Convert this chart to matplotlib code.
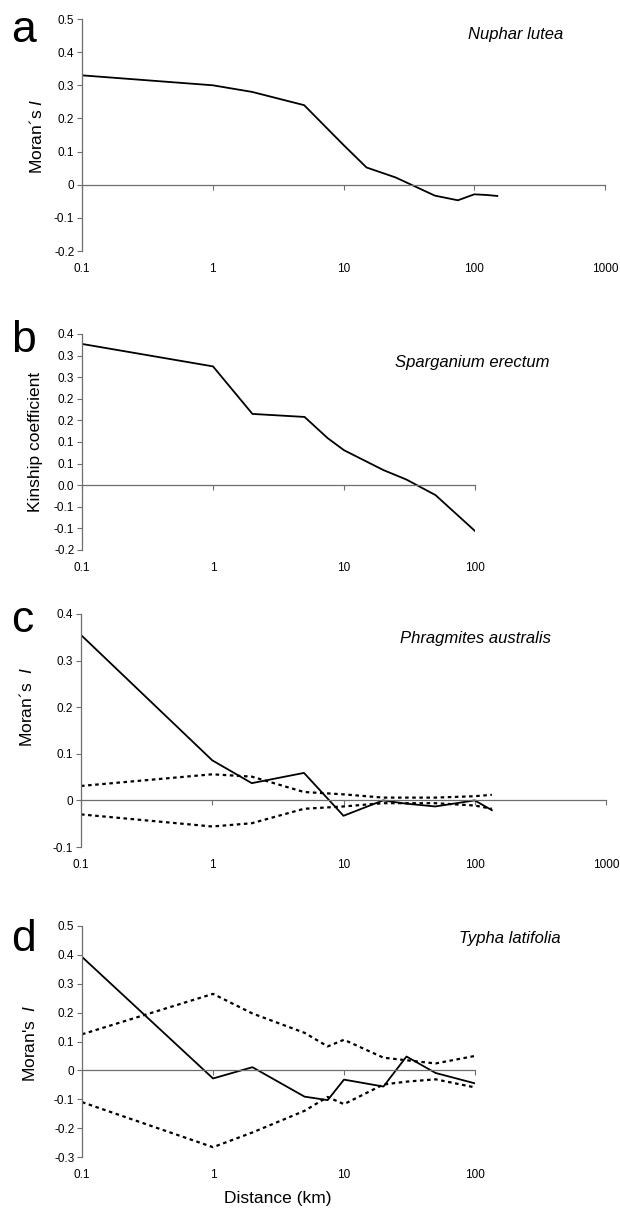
import matplotlib.pyplot as plt
from matplotlib.ticker import NullLocator, FixedLocator, FixedFormatter

plt.rcParams['font.family'] = ['Liberation Sans', 'DejaVu Sans']
plt.rcParams['mathtext.fontset'] = 'custom'
plt.rcParams['mathtext.rm'] = 'Liberation Sans'
plt.rcParams['mathtext.it'] = 'Liberation Sans:italic'

# --- data (distance in km) ---
# a: Nuphar lutea
a_dist = [0.1, 1, 2, 5, 10, 15, 25, 50, 75, 100, 125, 150]
a_moran = [0.33, 0.30, 0.28, 0.24, 0.12, 0.052, 0.022, -0.033, -0.047, -0.029, -0.031, -0.034]

# b: Sparganium erectum
b_dist = [0.1, 1, 2, 5, 7.5, 10, 20, 30, 50, 100]
b_kin = [0.327, 0.275, 0.165, 0.158, 0.109, 0.081, 0.035, 0.013, -0.023, -0.106]

# c: Phragmites australis
c_dist = [0.1, 1, 2, 5, 10, 20, 30, 50, 100, 135]
c_moran = [0.355, 0.086, 0.037, 0.059, -0.033, 0.0, -0.007, -0.013, 0.0, -0.021]
c_upper = [0.031, 0.056, 0.051, 0.018, 0.013, 0.006, 0.006, 0.006, 0.009, 0.012]
c_lower = [-0.030, -0.056, -0.049, -0.018, -0.013, -0.006, -0.006, -0.006, -0.011, -0.018]

# d: Typha latifolia
d_dist = [0.1, 1, 2, 5, 7.5, 10, 20, 30, 50, 100]
d_moran = [0.393, -0.028, 0.011, -0.091, -0.103, -0.032, -0.056, 0.048, -0.009, -0.045]
d_upper = [0.125, 0.265, 0.197, 0.130, 0.083, 0.106, 0.044, 0.035, 0.024, 0.050]
d_lower = [-0.110, -0.266, -0.215, -0.140, -0.092, -0.117, -0.049, -0.039, -0.031, -0.059]

# ticks
x_ticks_1000 = [0.1, 1, 10, 100, 1000]
x_labels_1000 = ['0.1', '1', '10', '100', '1000']
x_ticks_100 = [0.1, 1, 10, 100]
x_labels_100 = ['0.1', '1', '10', '100']

a_yticks = [-0.2, -0.1, 0, 0.1, 0.2, 0.3, 0.4, 0.5]
a_ylabels = ['-0.2', '-0.1', '0', '0.1', '0.2', '0.3', '0.4', '0.5']
b_yticks = [-0.15, -0.1, -0.05, 0, 0.05, 0.1, 0.15, 0.2, 0.25, 0.3, 0.35]
b_ylabels = ['-0.2', '-0.1', '-0.1', '0.0', '0.1', '0.1', '0.2', '0.2', '0.3', '0.3', '0.4']
c_yticks = [-0.1, 0, 0.1, 0.2, 0.3, 0.4]
c_ylabels = ['-0.1', '0', '0.1', '0.2', '0.3', '0.4']
d_yticks = [-0.3, -0.2, -0.1, 0, 0.1, 0.2, 0.3, 0.4, 0.5]
d_ylabels = ['-0.3', '-0.2', '-0.1', '0', '0.1', '0.2', '0.3', '0.4', '0.5']

W, H = 620, 1208
fig = plt.figure(figsize=(W / 100, H / 100), dpi=100)
AXIS_COL = '#6e6e6e'
DOT = (0, (1.6, 1.6))
TICK_FS = 8.5


def px_axes(left, top, right, bottom):
    return fig.add_axes([left / W, 1 - bottom / H, (right - left) / W, (bottom - top) / H])


def setup(ax, xticks, xlabels, yticks, ylabels):
    ax.set_xscale('log')
    ax.set_xlim(xticks[0], xticks[-1])
    ax.set_ylim(yticks[0], yticks[-1])
    for s in ['top', 'right']:
        ax.spines[s].set_visible(False)
    ax.spines['left'].set_color(AXIS_COL)
    ax.spines['left'].set_linewidth(0.9)
    ax.spines['bottom'].set_position(('data', 0))
    ax.spines['bottom'].set_color(AXIS_COL)
    ax.spines['bottom'].set_linewidth(0.9)
    ax.xaxis.set_major_locator(FixedLocator(xticks))
    ax.xaxis.set_minor_locator(NullLocator())
    ax.tick_params(axis='x', direction='out', length=3.5, width=0.8,
                   color=AXIS_COL, labelbottom=False)
    ax.set_yticks(yticks)
    ax.set_yticklabels(ylabels)
    ax.tick_params(axis='y', direction='out', length=3.5, width=0.8,
                   color=AXIS_COL, labelsize=TICK_FS, pad=2)
    # labels sit under the plot, the tick marks stay on the zero line
    sec = ax.secondary_xaxis(0)
    sec.spines['bottom'].set_visible(False)
    sec.xaxis.set_major_locator(FixedLocator(xticks))
    sec.xaxis.set_major_formatter(FixedFormatter(xlabels))
    sec.xaxis.set_minor_locator(NullLocator())
    sec.tick_params(axis='x', length=0, labelsize=TICK_FS, pad=8.5)


def ftext(x, y, s, **kw):
    fig.text(x / W, 1 - y / H, s, **kw)


# panel a
ax = px_axes(82, 19, 605, 251)
setup(ax, x_ticks_1000, x_labels_1000, a_yticks, a_ylabels)
ax.plot(a_dist, a_moran, color='black', lw=1.3)

# panel b
ax = px_axes(82, 334, 475, 550)
setup(ax, x_ticks_100, x_labels_100, b_yticks, b_ylabels)
ax.plot(b_dist, b_kin, color='black', lw=1.3)

# panel c
ax = px_axes(81, 614, 606, 847)
setup(ax, x_ticks_1000, x_labels_1000, c_yticks, c_ylabels)
ax.plot(c_dist, c_upper, color='black', lw=1.6, linestyle=DOT)
ax.plot(c_dist, c_lower, color='black', lw=1.6, linestyle=DOT)
ax.plot(c_dist, c_moran, color='black', lw=1.3)

# panel d
ax = px_axes(82, 926, 475, 1157)
setup(ax, x_ticks_100, x_labels_100, d_yticks, d_ylabels)
ax.plot(d_dist, d_upper, color='black', lw=1.6, linestyle=DOT)
ax.plot(d_dist, d_lower, color='black', lw=1.6, linestyle=DOT)
ax.plot(d_dist, d_moran, color='black', lw=1.3)

# panel letters
for letter, y in zip(['a', 'b', 'c', 'd'], [42, 352, 632, 951]):
    ftext(11, y, letter, fontsize=32, ha='left', va='baseline')

# species names
species = ['Nuphar lutea', 'Sparganium erectum', 'Phragmites australis', 'Typha latifolia']
for name, x, y in zip(species, [516, 472, 475, 510], [35, 363, 638, 939]):
    ftext(x, y, name, fontsize=12, style='italic', ha='center', va='center')

# y axis labels
ylabels = ['Moran´s $\\mathit{I}$', 'Kinship coefficient',
           'Moran´s  $\\mathit{I}$', "Moran's  $\\mathit{I}$"]
for lab, x, y in zip(ylabels, [36, 36, 27, 30], [136, 442, 707, 1043]):
    ftext(x, y, lab, fontsize=12.5, rotation=90, ha='center', va='center')

ftext(278, 1199, 'Distance (km)', fontsize=12.5, ha='center', va='center')

fig.savefig('out.png', dpi=100)
